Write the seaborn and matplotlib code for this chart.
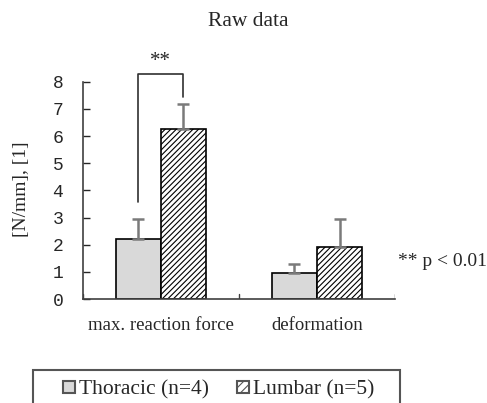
import matplotlib
matplotlib.use("Agg")
import matplotlib.pyplot as plt
import numpy as np
import pandas as pd
import seaborn as sns
from matplotlib.patches import Patch, Rectangle

measures = ["max. reaction force", "deformation"]
groups = ["Thoracic (n=4)", "Lumbar (n=5)"]
thoracic_mean = [2.2, 0.97]
thoracic_sd = [0.75, 0.33]
lumbar_mean = [6.27, 1.93]
lumbar_sd = [0.93, 1.0]
yticks = [0, 1, 2, 3, 4, 5, 6, 7, 8]

df = pd.DataFrame({
    "measure": measures * 2,
    "group": [groups[0]] * 2 + [groups[1]] * 2,
    "mean": thoracic_mean + lumbar_mean,
    "sd": thoracic_sd + lumbar_sd,
})

sns.set_style("white")
plt.rcParams["font.family"] = ["Liberation Serif", "DejaVu Serif"]
plt.rcParams["hatch.linewidth"] = 0.8

fig = plt.figure(figsize=(4.87, 4.03), dpi=100)
ax = fig.add_axes([0.170, 0.258, 0.641, 0.539])

colors = {groups[0]: "#d9d9d9", groups[1]: "white"}
sns.barplot(data=df, x="measure", y="mean", hue="group", palette=colors,
            width=0.58, gap=0, errorbar=None, edgecolor="black", linewidth=1.2,
            ax=ax, legend=False)

bars = list(ax.containers)
# hatch for lumbar bars + one-sided error bars
for i, cont in enumerate(bars):
    sub = df[df["group"] == groups[i]]
    xs = [p.get_x() + p.get_width() / 2 for p in cont.patches]
    for p in cont.patches:
        if i == 1:
            p.set_hatch("//////")
    ax.errorbar(xs, sub["mean"], yerr=[np.zeros(len(sub)), sub["sd"]],
                fmt="none", ecolor="#7a7a7a", elinewidth=1.8, capsize=4.5,
                capthick=1.8, zorder=1)

ax.set_xlim(-0.5, 1.5)
ax.set_ylim(0, 8)
ax.set_yticks(yticks)
ax.set_yticklabels([str(t) for t in yticks], family="Liberation Mono", fontsize=13)
ax.set_xticks([0, 1])
ax.set_xticklabels(measures, fontsize=13.5)
ax.tick_params(axis="x", length=0, pad=13)
ax.tick_params(axis="y", direction="in", length=5, width=1, pad=14, left=True)
for xb in [-0.5, 0.5, 1.5]:
    ax.plot([xb, xb], [0, 0.2], color="#404040", lw=1)
ax.set_xlabel("")
ax.set_ylabel("")
fig.text(22 / 487, 0.531, "[N/mm], [1]", rotation=90, ha="center", va="center",
         fontsize=14)
for s in ["top", "right"]:
    ax.spines[s].set_visible(False)
for s in ["left", "bottom"]:
    ax.spines[s].set_color("#404040")
    ax.spines[s].set_linewidth(1.2)

# significance bracket
x0 = bars[0].patches[0]
x1 = bars[1].patches[0]
bx0 = x0.get_x() + x0.get_width() / 2
bx1 = x1.get_x() + x1.get_width() / 2
ax.plot([bx0, bx0, bx1, bx1], [3.58, 8.3, 8.3, 7.45], color="#303030", lw=1.2,
        clip_on=False)
ax.text((bx0 + bx1) / 2, 8.75, "**", ha="center", va="center", fontsize=15)
ax.text(1.52, 1.4, "** p < 0.01", ha="left", va="center", fontsize=14)

fig.text(0.51, 1 - 21 / 403, "Raw data", ha="center", va="center", fontsize=15.5)

handles = [Patch(facecolor="#d9d9d9", edgecolor="#555555", linewidth=1.5),
           Patch(facecolor="white", edgecolor="#555555", linewidth=1.5, hatch="////")]
leg = fig.legend(handles, groups, loc="center", bbox_to_anchor=(219 / 487, 1 - 390 / 403),
                 ncol=2, frameon=False, fontsize=15.5,
                 handlelength=0.55, handleheight=0.55, handletextpad=0.2,
                 columnspacing=1.3, borderaxespad=0, borderpad=0)
fig.patches.append(Rectangle((33 / 487, -0.02), 367 / 487, 0.02 + 1 - 370 / 403,
                             transform=fig.transFigure, facecolor="none",
                             edgecolor="#555555", linewidth=1.5))

fig.savefig("out.png", dpi=100)
